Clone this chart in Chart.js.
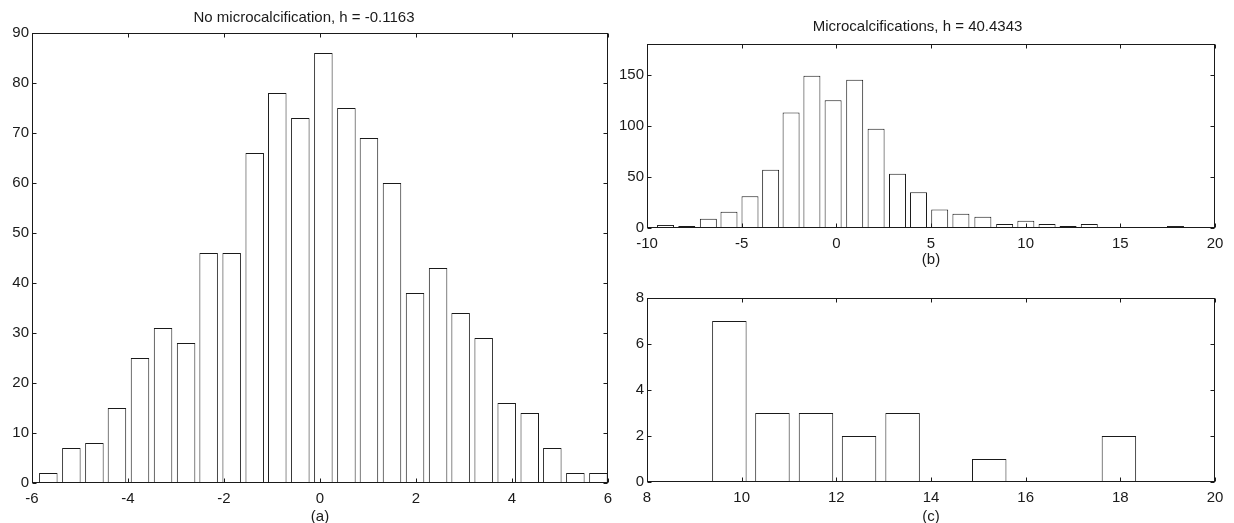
<!DOCTYPE html>
<html>
<head>
<meta charset="utf-8">
<script src="https://cdn.jsdelivr.net/npm/chart.js@4/dist/chart.umd.min.js"></script>
<style>
  html, body { margin: 0; padding: 0; background: #fff; overflow: hidden; width: 1234px; height: 523px; }
  canvas { position: absolute; }
  #histA { left: 0; top: 0; }
  #histB { left: 620px; top: 0; }
  #histC { left: 620px; top: 270px; }
</style>
</head>
<body>
<canvas id="histA" width="620" height="530"></canvas>
<canvas id="histB" width="614" height="272"></canvas>
<canvas id="histC" width="614" height="260"></canvas>
<script>
    // (a) no microcalcification
    const noCalcCenters = [-5.66, -5.18, -4.70, -4.23, -3.75, -3.27, -2.79, -2.32, -1.84, -1.36, -0.89, -0.41, 0.07,
                           0.55, 1.02, 1.50, 1.98, 2.46, 2.93, 3.41, 3.89, 4.37, 4.84, 5.32, 5.80];
    const noCalcCounts = [2, 7, 8, 15, 25, 31, 28, 46, 46, 66, 78, 73, 86, 75, 69, 60, 38, 43, 34, 29, 16, 14, 7, 2, 2];

    // (b) microcalcifications
    const calcCenters = [-9.02, -7.90, -6.76, -5.67, -4.56, -3.47, -2.39, -1.29, -0.17, 0.97, 2.10, 3.23, 4.34,
                         5.46, 6.58, 7.74, 8.89, 10.01, 11.13, 12.24, 13.36, 14.46, 15.58, 16.70, 17.91];
    const calcCounts = [3, 2, 9, 16, 31, 57, 113, 149, 125, 145, 97, 53, 35, 18, 14, 11, 4, 7, 4, 2, 4, 1, 0, 0, 2];

    // (c) tail of (b)
    const tailCenters = [9.74, 10.65, 11.57, 12.48, 13.40, 14.31, 15.23, 16.14, 17.06, 17.97];
    const tailCounts = [7, 3, 3, 2, 3, 0, 1, 0, 0, 2];

    const xTicksA = [-6, -4, -2, 0, 2, 4, 6];
    const yTicksA = [0, 10, 20, 30, 40, 50, 60, 70, 80, 90];
    const xTicksB = [-10, -5, 0, 5, 10, 15, 20];
    const yTicksB = [0, 50, 100, 150];
    const xTicksC = [8, 10, 12, 14, 16, 18, 20];
    const yTicksC = [0, 2, 4, 6, 8];

    const ink = '#1a1a1a';
    const font = { family: '"Liberation Sans", Arial, Helvetica, sans-serif', size: 15, weight: 'normal' };

    // matlab style box with inward ticks on all four sides
    const boxTicks = {
        id: 'boxTicks',
        afterDatasetsDraw(chart) {
            const { ctx, chartArea: a, scales: { x, y } } = chart;
            const L = Math.round(a.left) + 0.5, R = Math.round(a.right) - 0.5;
            const T = Math.round(a.top) + 0.5, B = Math.round(a.bottom) - 0.5;
            ctx.save();
            ctx.strokeStyle = ink;
            ctx.lineWidth = 1;
            ctx.strokeRect(L, T, R - L, B - T);
            ctx.beginPath();
            x.ticks.forEach(t => {
                const px = Math.round(x.getPixelForValue(t.value)) + 0.5;
                ctx.moveTo(px, B); ctx.lineTo(px, B - 4);
                ctx.moveTo(px, T); ctx.lineTo(px, T + 4);
            });
            y.ticks.forEach(t => {
                const py = Math.round(y.getPixelForValue(t.value)) + 0.5;
                ctx.moveTo(L, py); ctx.lineTo(L + 4, py);
                ctx.moveTo(R, py); ctx.lineTo(R - 4, py);
            });
            ctx.stroke();
            ctx.restore();
        }
    };

    function histChart(id, centers, counts, cfg) {
        return new Chart(document.getElementById(id), {
            type: 'bar',
            data: {
                datasets: [{
                    data: centers.map((c, i) => ({ x: c, y: counts[i] })),
                    backgroundColor: '#fff',
                    borderColor: ink,
                    borderWidth: 1,
                    borderSkipped: false,
                    barPercentage: cfg.barPct,
                    categoryPercentage: 1
                }]
            },
            options: {
                responsive: false,
                animation: false,
                devicePixelRatio: 1,
                layout: { padding: cfg.padding },
                plugins: {
                    legend: { display: false },
                    tooltip: { enabled: false },
                    title: {
                        display: !!cfg.title,
                        text: cfg.title || '',
                        color: ink,
                        font: font,
                        padding: cfg.titlePad || 0
                    }
                },
                scales: {
                    x: {
                        type: 'linear',
                        offset: false,
                        min: cfg.xTicks[0],
                        max: cfg.xTicks[cfg.xTicks.length - 1],
                        afterBuildTicks: s => { s.ticks = cfg.xTicks.map(v => ({ value: v })); },
                        afterFit: s => { s.height = cfg.xHeight; },
                        grid: { display: false, drawTicks: false },
                        border: { display: false },
                        ticks: { color: ink, font: font, padding: 7, maxRotation: 0, autoSkip: false },
                        title: {
                            display: true,
                            text: cfg.label,
                            color: ink,
                            font: font,
                            padding: { top: 0, bottom: cfg.labelPad }
                        }
                    },
                    y: {
                        min: 0,
                        max: cfg.yMax,
                        afterBuildTicks: s => { s.ticks = cfg.yTicks.map(v => ({ value: v })); },
                        afterFit: s => { s.width = cfg.yWidth; },
                        grid: { display: false, drawTicks: false },
                        border: { display: false },
                        ticks: { color: ink, font: font, padding: 3 }
                    }
                }
            },
            plugins: [boxTicks]
        });
    }

    histChart('histA', noCalcCenters, noCalcCounts, {
        title: 'No microcalcification, h = -0.1163',
        titlePad: { top: 8.5, bottom: 6.5 },
        label: '(a)', labelPad: 4,
        xTicks: xTicksA, yTicks: yTicksA, yMax: 90,
        xHeight: 47, yWidth: 32,
        padding: { left: 0, right: 12, top: 0, bottom: 0 },
        barPct: 0.82
    });

    histChart('histB', calcCenters, calcCounts, {
        title: 'Microcalcifications, h = 40.4343',
        titlePad: { top: 18, bottom: 8 },
        label: '(b)', labelPad: 3,
        xTicks: xTicksB, yTicks: yTicksB, yMax: 180,
        xHeight: 44, yWidth: 27,
        padding: { left: 0, right: 19, top: 0, bottom: 0 },
        barPct: 0.83
    });

    histChart('histC', tailCenters, tailCounts, {
        label: '(c)', labelPad: 4,
        xTicks: xTicksC, yTicks: yTicksC, yMax: 8,
        xHeight: 48, yWidth: 27,
        padding: { left: 0, right: 19, top: 28, bottom: 0 },
        barPct: 0.8
    });
</script>
</body>
</html>
